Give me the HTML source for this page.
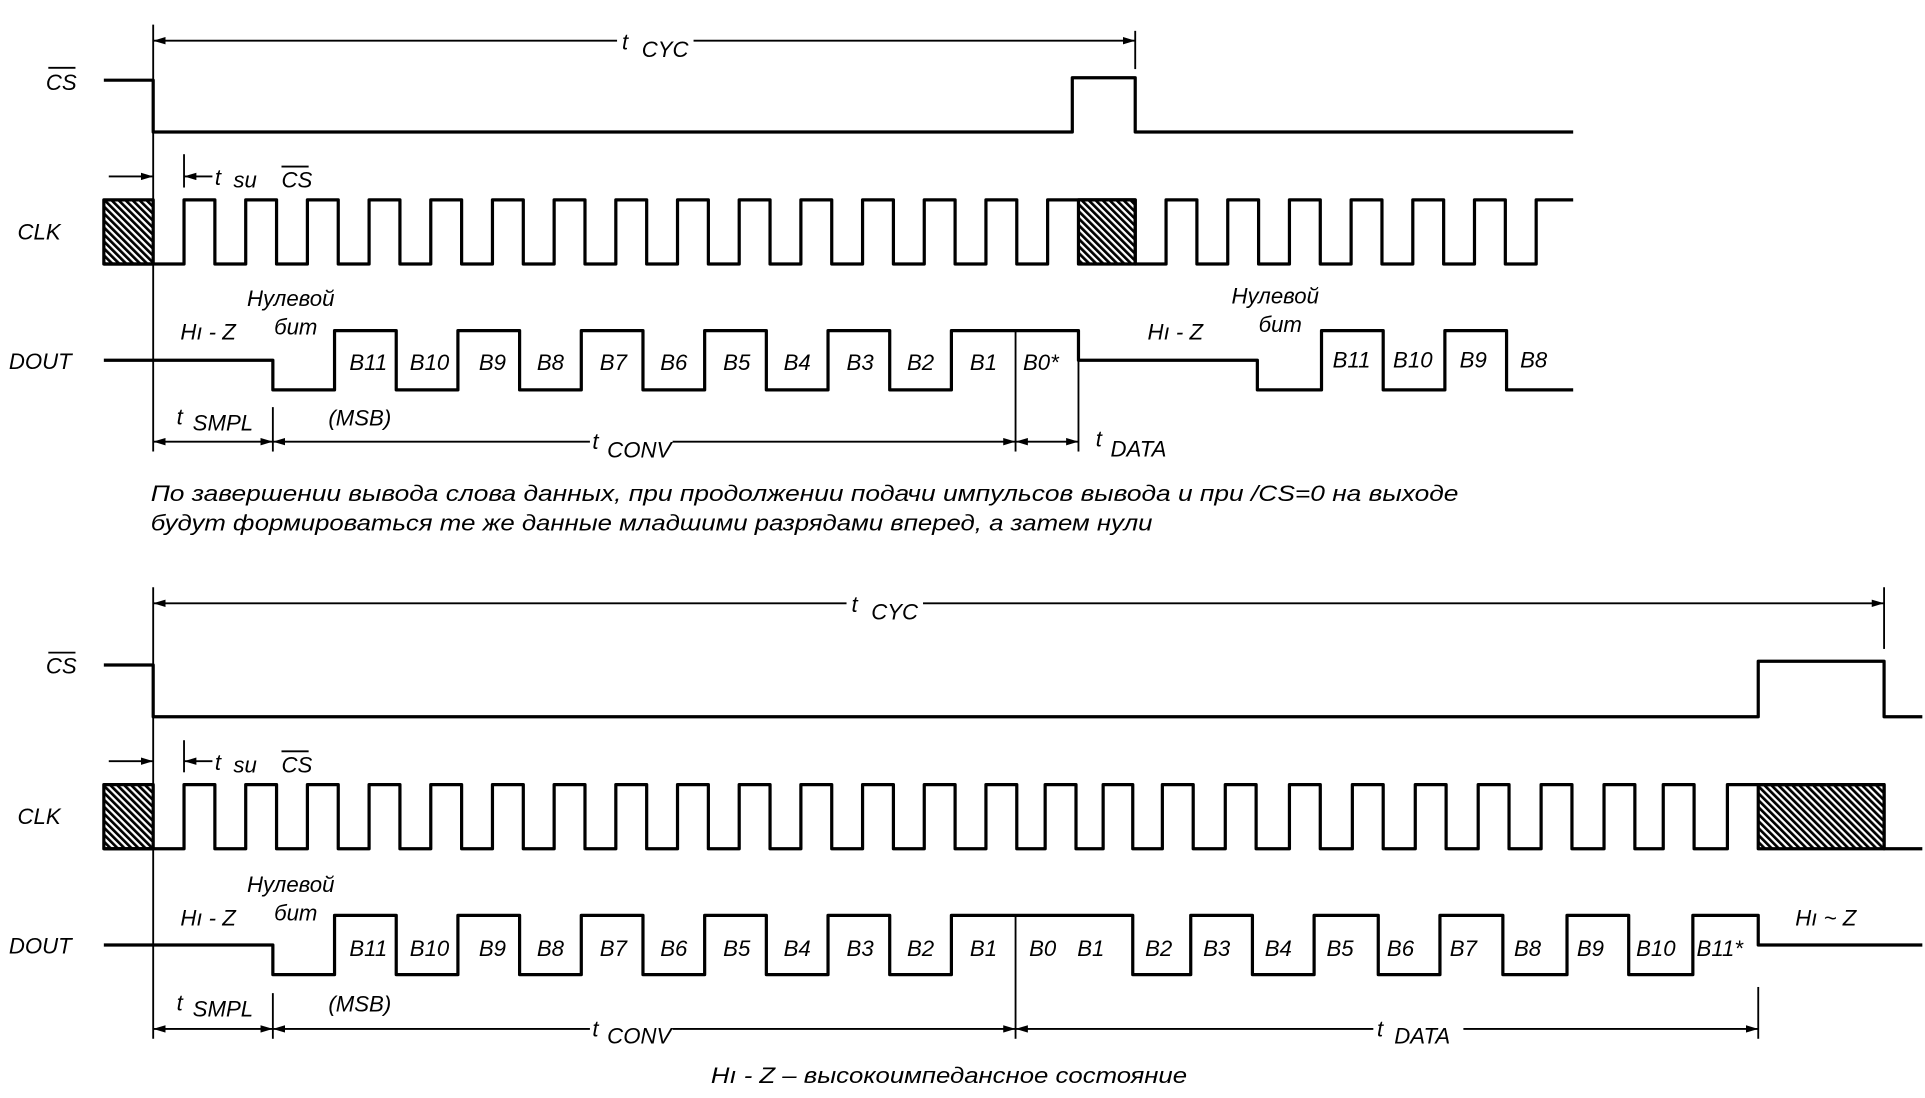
<!DOCTYPE html>
<html><head><meta charset="utf-8"><style>
html,body{margin:0;padding:0;background:#fff;}
svg{display:block}
text{font-family:"Liberation Sans","DejaVu Sans",sans-serif;font-style:italic;fill:#000;font-size:18px}
</style></head><body>
<svg width="1925" height="1098" viewBox="0 0 1560 890" xmlns="http://www.w3.org/2000/svg">
<defs>
<pattern id="h" width="4" height="4" patternUnits="userSpaceOnUse" patternTransform="rotate(-45)">
<rect width="4" height="4" fill="#fff"/><rect width="2.2" height="4" fill="#000"/>
</pattern>
<marker id="a" viewBox="0 0 10 6" refX="10" refY="3" markerWidth="10" markerHeight="6" markerUnits="userSpaceOnUse" orient="auto-start-reverse"><path d="M0,0 L10,3 L0,6 z" fill="#000"/></marker>
</defs>
<g fill="none" stroke="#000" stroke-linejoin="round">
<!-- ===== TOP ===== -->
<g stroke-width="1.5">
<line x1="124" y1="20" x2="124" y2="366"/>
<line x1="920" y1="25" x2="920" y2="56"/>
<line x1="124" y1="33" x2="500" y2="33" marker-start="url(#a)"/>
<line x1="562" y1="33" x2="920" y2="33" marker-end="url(#a)"/>
<line x1="149" y1="125" x2="149" y2="152"/>
<line x1="88" y1="143" x2="124" y2="143" marker-end="url(#a)"/>
<line x1="149" y1="143" x2="172" y2="143" marker-start="url(#a)"/>
<line x1="221" y1="330" x2="221" y2="366"/>
<line x1="823" y1="268" x2="823" y2="366"/>
<line x1="874" y1="292" x2="874" y2="366"/>
<line x1="124" y1="358" x2="221" y2="358" marker-start="url(#a)" marker-end="url(#a)"/>
<line x1="221" y1="358" x2="478" y2="358" marker-start="url(#a)"/>
<line x1="545" y1="358" x2="823" y2="358" marker-end="url(#a)"/>
<line x1="823" y1="358" x2="874" y2="358" marker-start="url(#a)" marker-end="url(#a)"/>
</g>
<g stroke-width="2.6">
<path d="M84,65 H124 V107 H869 V63 H920 V107 H1275"/>
<rect x="84" y="162" width="40" height="52" fill="url(#h)"/>
<rect x="874" y="162" width="46" height="52" fill="url(#h)"/>
<path d="M84,214 H149 V162 H174 V214 H199 V162 H224 V214 H249 V162 H274 V214 H299 V162 H324 V214 H349 V162 H374 V214 H399 V162 H424 V214 H449 V162 H474 V214 H499 V162 H524 V214 H549 V162 H574 V214 H599 V162 H624 V214 H649 V162 H674 V214 H699 V162 H724 V214 H749 V162 H774 V214 H799 V162 H824 V214 H849 V162 H920 V214 H945 V162 H970 V214 H995 V162 H1020 V214 H1045 V162 H1070 V214 H1095 V162 H1120 V214 H1145 V162 H1170 V214 H1195 V162 H1220 V214 H1245 V162 H1275"/>
<path d="M84,292 H221 V316 H271 V268 H321 V316 H371 V268 H421 V316 H471 V268 H521 V316 H571 V268 H621 V316 H671 V268 H721 V316 H771 V268 H874 V292 H1019 V316 H1071 V268 H1121 V316 H1171 V268 H1221 V316 H1275"/>
</g>
<!-- ===== BOTTOM ===== -->
<g stroke-width="1.5">
<line x1="124" y1="476" x2="124" y2="842"/>
<line x1="1527" y1="476" x2="1527" y2="526"/>
<line x1="124" y1="489" x2="686" y2="489" marker-start="url(#a)"/>
<line x1="748" y1="489" x2="1527" y2="489" marker-end="url(#a)"/>
<line x1="149" y1="600" x2="149" y2="626"/>
<line x1="88" y1="617" x2="124" y2="617" marker-end="url(#a)"/>
<line x1="149" y1="617" x2="172" y2="617" marker-start="url(#a)"/>
<line x1="221" y1="805" x2="221" y2="842"/>
<line x1="823" y1="742" x2="823" y2="842"/>
<line x1="1425" y1="800" x2="1425" y2="842"/>
<line x1="124" y1="834" x2="221" y2="834" marker-start="url(#a)" marker-end="url(#a)"/>
<line x1="221" y1="834" x2="478" y2="834" marker-start="url(#a)"/>
<line x1="545" y1="834" x2="823" y2="834" marker-end="url(#a)"/>
<line x1="823" y1="834" x2="1113" y2="834" marker-start="url(#a)"/>
<line x1="1186" y1="834" x2="1425" y2="834" marker-end="url(#a)"/>
</g>
<g stroke-width="2.6">
<path d="M84,539 H124 V581 H1425 V536 H1527 V581 H1558"/>
<rect x="84" y="636" width="40" height="52" fill="url(#h)"/>
<rect x="1425" y="636" width="102" height="52" fill="url(#h)"/>
<path d="M84,688 H149 V636 H174 V688 H199 V636 H224 V688 H249 V636 H274 V688 H299 V636 H324 V688 H349 V636 H374 V688 H399 V636 H424 V688 H449 V636 H474 V688 H499 V636 H524 V688 H549 V636 H574 V688 H599 V636 H624 V688 H649 V636 H674 V688 H699 V636 H724 V688 H749 V636 H774 V688 H799 V636 H824 V688 H847 V636 H872 V688 H894 V636 H918 V688 H942 V636 H967 V688 H993 V636 H1018 V688 H1045 V636 H1070 V688 H1096 V636 H1121 V688 H1147 V636 H1172 V688 H1198 V636 H1223 V688 H1249 V636 H1274 V688 H1300 V636 H1325 V688 H1348 V636 H1373 V688 H1400 V636 H1527 V688 H1558"/>
<path d="M84,766 H221 V790 H271 V742 H321 V790 H371 V742 H421 V790 H471 V742 H521 V790 H571 V742 H621 V790 H671 V742 H721 V790 H771 V742 H918 V790 H965 V742 H1015 V790 H1065 V742 H1117 V790 H1167 V742 H1218 V790 H1270 V742 H1320 V790 H1372 V742 H1425 V766 H1558"/>
</g>
</g>
<!-- overlines -->
<g stroke="#000" stroke-width="1.5">
<line x1="39" y1="55" x2="61" y2="55"/>
<line x1="39" y1="529" x2="61" y2="529"/>
<line x1="228" y1="135" x2="250" y2="135"/>
<line x1="228" y1="609" x2="250" y2="609"/>
</g>
<g>
<!-- top labels -->
<text x="37" y="73">CS</text>
<text x="14" y="194">CLK</text>
<text x="7" y="299">DOUT</text>
<text x="504" y="40">t</text><text x="520" y="46">CYC</text>
<text x="174" y="150">t</text><text x="189" y="152" font-size="17">su</text><text x="228" y="152">CS</text>
<text x="146" y="275">Hı - Z</text>
<text x="200" y="248">Нулевой</text>
<text x="222" y="271">бит</text>
<text x="283" y="300">B11</text><text x="332" y="300">B10</text><text x="388" y="300">B9</text><text x="435" y="300">B8</text><text x="486" y="300">B7</text><text x="535" y="300">B6</text><text x="586" y="300">B5</text><text x="635" y="300">B4</text><text x="686" y="300">B3</text><text x="735" y="300">B2</text><text x="786" y="300">B1</text><text x="829" y="300">B0*</text>
<text x="930" y="275">Hı - Z</text>
<text x="998" y="246">Нулевой</text>
<text x="1020" y="269">бит</text>
<text x="1080" y="298">B11</text><text x="1129" y="298">B10</text><text x="1183" y="298">B9</text><text x="1232" y="298">B8</text>
<text x="143" y="344">t</text><text x="156" y="349">SMPL</text>
<text x="266" y="345">(MSB)</text>
<text x="480" y="364">t</text><text x="492" y="371">CONV</text>
<text x="888" y="362">t</text><text x="900" y="370">DATA</text>
<text x="122" y="406" font-size="17" textLength="1060" lengthAdjust="spacingAndGlyphs">По завершении вывода слова данных, при продолжении подачи импульсов вывода и при /CS=0 на выходе</text>
<text x="122" y="430" font-size="17" textLength="812" lengthAdjust="spacingAndGlyphs">будут формироваться те же данные младшими разрядами вперед, а затем нули</text>
<!-- bottom labels -->
<text x="37" y="546">CS</text>
<text x="14" y="668">CLK</text>
<text x="7" y="773">DOUT</text>
<text x="690" y="496">t</text><text x="706" y="502">CYC</text>
<text x="174" y="624">t</text><text x="189" y="626" font-size="17">su</text><text x="228" y="626">CS</text>
<text x="146" y="750">Hı - Z</text>
<text x="200" y="723">Нулевой</text>
<text x="222" y="746">бит</text>
<text x="283" y="775">B11</text><text x="332" y="775">B10</text><text x="388" y="775">B9</text><text x="435" y="775">B8</text><text x="486" y="775">B7</text><text x="535" y="775">B6</text><text x="586" y="775">B5</text><text x="635" y="775">B4</text><text x="686" y="775">B3</text><text x="735" y="775">B2</text><text x="786" y="775">B1</text>
<text x="834" y="775">B0</text><text x="873" y="775">B1</text><text x="928" y="775">B2</text><text x="975" y="775">B3</text><text x="1025" y="775">B4</text><text x="1075" y="775">B5</text><text x="1124" y="775">B6</text><text x="1175" y="775">B7</text><text x="1227" y="775">B8</text><text x="1278" y="775">B9</text><text x="1326" y="775">B10</text><text x="1375" y="775">B11*</text>
<text x="1455" y="750">Hı ~ Z</text>
<text x="143" y="819">t</text><text x="156" y="824">SMPL</text>
<text x="266" y="820">(MSB)</text>
<text x="480" y="840">t</text><text x="492" y="846">CONV</text>
<text x="1116" y="840">t</text><text x="1130" y="846">DATA</text>
<text x="576" y="878" font-size="17" textLength="386" lengthAdjust="spacingAndGlyphs">Hı - Z  –  высокоимпедансное состояние</text>
</g>
</svg>
</body></html>
